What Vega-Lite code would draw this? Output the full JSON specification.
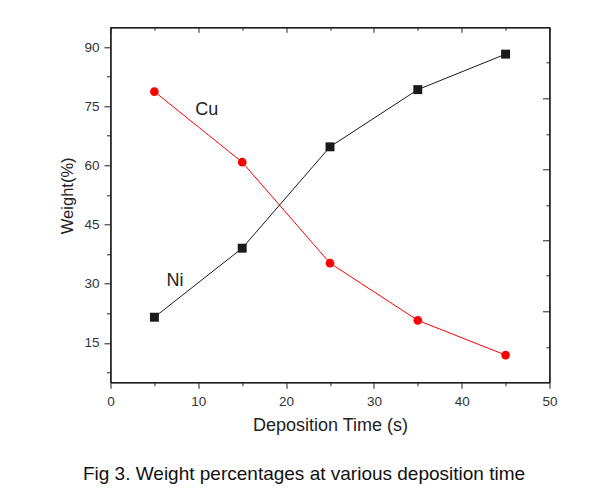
{
  "$schema": "https://vega.github.io/schema/vega-lite/v6.json",
  "width": 439,
  "height": 355,
  "autosize": {"type": "none"},
  "padding": {"left": 110.5, "top": 27.3, "right": 41.5, "bottom": 112.7},
  "background": "white",
  "config": {
    "font": "Liberation Sans",
    "view": {"stroke": "#111", "strokeWidth": 1.2},
    "axis": {"grid": false, "domainColor": "#222", "domainWidth": 1.3, "tickColor": "#222", "tickWidth": 1, "labelColor": "#333", "titleColor": "#222", "titleFontWeight": "normal", "labelFlush": false, "labelOverlap": false}
  },
  "title": {"text": "Fig 3. Weight percentages at various deposition time", "orient": "bottom", "anchor": "middle", "fontSize": 19, "fontWeight": "normal", "color": "#111", "dx": -26, "offset": 30},
  "datasets": {
    "series": [
      {"time": 5, "weight": 78.7, "element": "Cu"},
      {"time": 15, "weight": 60.8, "element": "Cu"},
      {"time": 25, "weight": 35.2, "element": "Cu"},
      {"time": 35, "weight": 20.7, "element": "Cu"},
      {"time": 45, "weight": 11.9, "element": "Cu"},
      {"time": 5, "weight": 21.5, "element": "Ni"},
      {"time": 15, "weight": 39.0, "element": "Ni"},
      {"time": 25, "weight": 64.7, "element": "Ni"},
      {"time": 35, "weight": 79.2, "element": "Ni"},
      {"time": 45, "weight": 88.2, "element": "Ni"}
    ],
    "labels": [
      {"time": 10.96, "weight": 74.0, "text": "Cu"},
      {"time": 7.35, "weight": 30.7, "text": "Ni"}
    ]
  },
  "resolve": {"axis": {"x": "independent", "y": "independent"}},
  "layer": [
    {
      "data": {"name": "series"},
      "mark": {"type": "line", "strokeWidth": 1},
      "encoding": {
        "x": {"field": "time", "type": "quantitative", "scale": {"domain": [0, 50], "nice": false},
          "axis": {"orient": "bottom", "values": [0, 5, 10, 15, 20, 25, 30, 35, 40, 45, 50], "labelExpr": "datum.value % 10 === 0 ? datum.label : ''",
            "tickSize": {"condition": {"test": "datum.value % 10 === 0", "value": 6}, "value": 3.5},
            "labelFontSize": 13.5, "labelPadding": 6, "title": "Deposition Time (s)", "titleFontSize": 18, "titlePadding": 9}},
        "y": {"field": "weight", "type": "quantitative", "scale": {"domain": [5, 95], "nice": false, "zero": false},
          "axis": {"orient": "left", "values": [7.5, 15, 22.5, 30, 37.5, 45, 52.5, 60, 67.5, 75, 82.5, 90], "labelExpr": "datum.value % 15 === 0 ? datum.label : ''",
            "tickSize": {"condition": {"test": "datum.value % 15 === 0", "value": 6.5}, "value": 4},
            "labelFontSize": 13.5, "labelPadding": 5, "title": "Weight(%)", "titleFontSize": 16.5, "titlePadding": 8, "titleY": 168}},
        "color": {"field": "element", "type": "nominal", "scale": {"domain": ["Ni", "Cu"], "range": ["#1a1a1a", "#ff0000"]}, "legend": null}
      }
    },
    {
      "data": {"name": "series"},
      "mark": {"type": "point", "filled": true, "opacity": 1},
      "encoding": {
        "x": {"field": "time", "type": "quantitative", "scale": {"domain": [0, 50], "nice": false},
          "axis": {"orient": "top", "values": [0, 5, 10, 15, 20, 25, 30, 35, 40, 45, 50], "labels": false, "title": null,
            "tickSize": {"condition": {"test": "datum.value % 10 === 0", "value": -5}, "value": -3}}},
        "y": {"field": "weight", "type": "quantitative", "scale": {"domain": [5, 95], "nice": false, "zero": false},
          "axis": {"orient": "right", "values": [14, 23, 32, 41, 50, 59, 68, 77, 86], "labels": false, "title": null,
            "tickSize": {"condition": {"test": "(datum.value - 5) % 18 === 0", "value": -7}, "value": -3.5}}},
        "color": {"field": "element", "type": "nominal", "scale": {"domain": ["Ni", "Cu"], "range": ["#000000", "#ff0000"]}, "legend": null},
        "shape": {"field": "element", "type": "nominal", "scale": {"domain": ["Ni", "Cu"], "range": ["square", "circle"]}, "legend": null},
        "size": {"field": "element", "type": "nominal", "scale": {"domain": ["Ni", "Cu"], "range": [80, 75]}, "legend": null}
      }
    },
    {
      "data": {"name": "labels"},
      "mark": {"type": "text", "fontSize": 18, "color": "#222", "align": "center", "baseline": "middle"},
      "encoding": {
        "x": {"field": "time", "type": "quantitative", "scale": {"domain": [0, 50], "nice": false}, "axis": null},
        "y": {"field": "weight", "type": "quantitative", "scale": {"domain": [5, 95], "nice": false, "zero": false}, "axis": null},
        "text": {"field": "text"}
      }
    }
  ]
}
